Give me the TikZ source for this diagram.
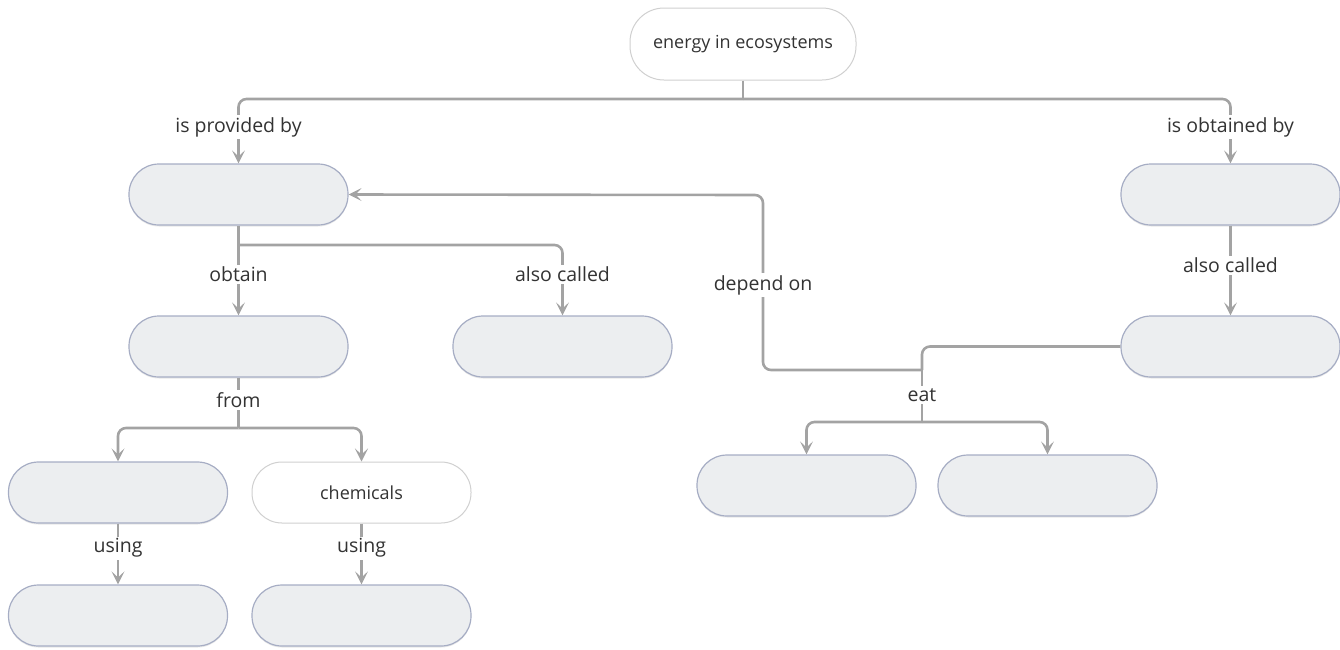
\documentclass[tikz,border=0pt]{standalone}
\usepackage{fontspec}
\setmainfont{Open Sans}
\usetikzlibrary{arrows.meta,shadows,calc}
\definecolor{linec}{HTML}{A3A3A3}
\definecolor{boxfill}{HTML}{ECEEF0}
\definecolor{boxdraw}{HTML}{A6ADC4}
\definecolor{wdraw}{HTML}{D0D0D0}
\definecolor{txt}{HTML}{333333}
\tikzset{
  box/.style={rectangle, rounded corners=30pt, minimum width=219pt, minimum height=61pt,
    fill=boxfill, draw=boxdraw, line width=1.2pt,
    drop shadow={shadow xshift=0pt, shadow yshift=-1.5pt, opacity=0.18}},
  wbox/.style={rectangle, rounded corners=30pt, minimum width=219pt, minimum height=61pt,
    fill=white, draw=wdraw, line width=1pt, font=\fontsize{18}{21}\selectfont, text=txt},
  conn/.style={draw=linec, line width=2.6pt, rounded corners=8pt},
  arr/.style={conn, -{Stealth[length=13pt, width=13pt, inset=6pt]}},
  lbl/.style={fill=white, inner sep=2pt, text=txt, font=\fontsize{19.5}{22}\selectfont},
}
\begin{document}
\begin{tikzpicture}[x=1pt,y=-1pt]
\useasboundingbox (0,0) rectangle (1340,649);
% nodes
\node[wbox, minimum width=226pt, minimum height=72pt, rounded corners=34pt] (top) at (743,44) {energy in ecosystems};
\node[box] (A) at (238.5,194.5) {};
\node[box] (B) at (1230.5,194.5) {};
\node[box] (C) at (238.5,346.5) {};
\node[box] (D) at (562.5,346.5) {};
\node[box] (E) at (1230.5,346.5) {};
\node[box] (F) at (118,492.5) {};
\node[wbox] (G) at (361.5,492.5) {chemicals};
\node[box] (H) at (118,615.5) {};
\node[box] (I) at (361.5,615.5) {};
\node[box] (J) at (806.5,485.5) {};
\node[box] (K) at (1047.5,485.5) {};
% junction coordinates
\coordinate (j1) at (743,99);
\coordinate (j2) at (238.5,245);
\coordinate (j3) at (238.5,428);
\coordinate (j4) at (922,370);
\coordinate (j5) at (922,422);
\coordinate (dp) at (763,195);
% connectors
\draw[conn] (top.south) -- (j1);
\draw[arr] (j1) -| (A.north);
\draw[arr] (j1) -| (B.north);
\draw[conn] (A.south) -- (j2);
\draw[arr] (j2) -- (C.north);
\draw[arr] (j2) -| (D.north);
\draw[conn] (C.south) -- (j3);
\draw[arr] (j3) -| (F.north);
\draw[arr] (j3) -| (G.north);
\draw[arr] (F.south) -- (H.north);
\draw[arr] (G.south) -- (I.north);
\draw[arr] (B.south) -- (E.north);
\draw[conn] (E.west) -| (j4);
\draw[arr] (j4) -| (dp) -- (A.east);
\draw[conn] (j4) -- (j5);
\draw[arr] (j5) -| (J.north);
\draw[arr] (j5) -| (K.north);
% labels
\node[lbl] (l1) at (238.5,127) {is provided by};
\node[lbl] (l2) at (1230.5,127) {is obtained by};
\node[lbl] (l3) at (238.5,274) {obtain};
\node[lbl] (l4) at (562.5,274) {also called};
\node[lbl] (l5) at (1230.5,265) {also called};
\node[lbl] (l6) at (238.5,400) {from};
\node[lbl] (l7) at (118,548) {using};
\node[lbl] (l8) at (361.5,548) {using};
\node[lbl] (l9) at (763,285) {depend on};
\node[lbl] (l10) at (922,395) {eat};
\end{tikzpicture}
\end{document}
